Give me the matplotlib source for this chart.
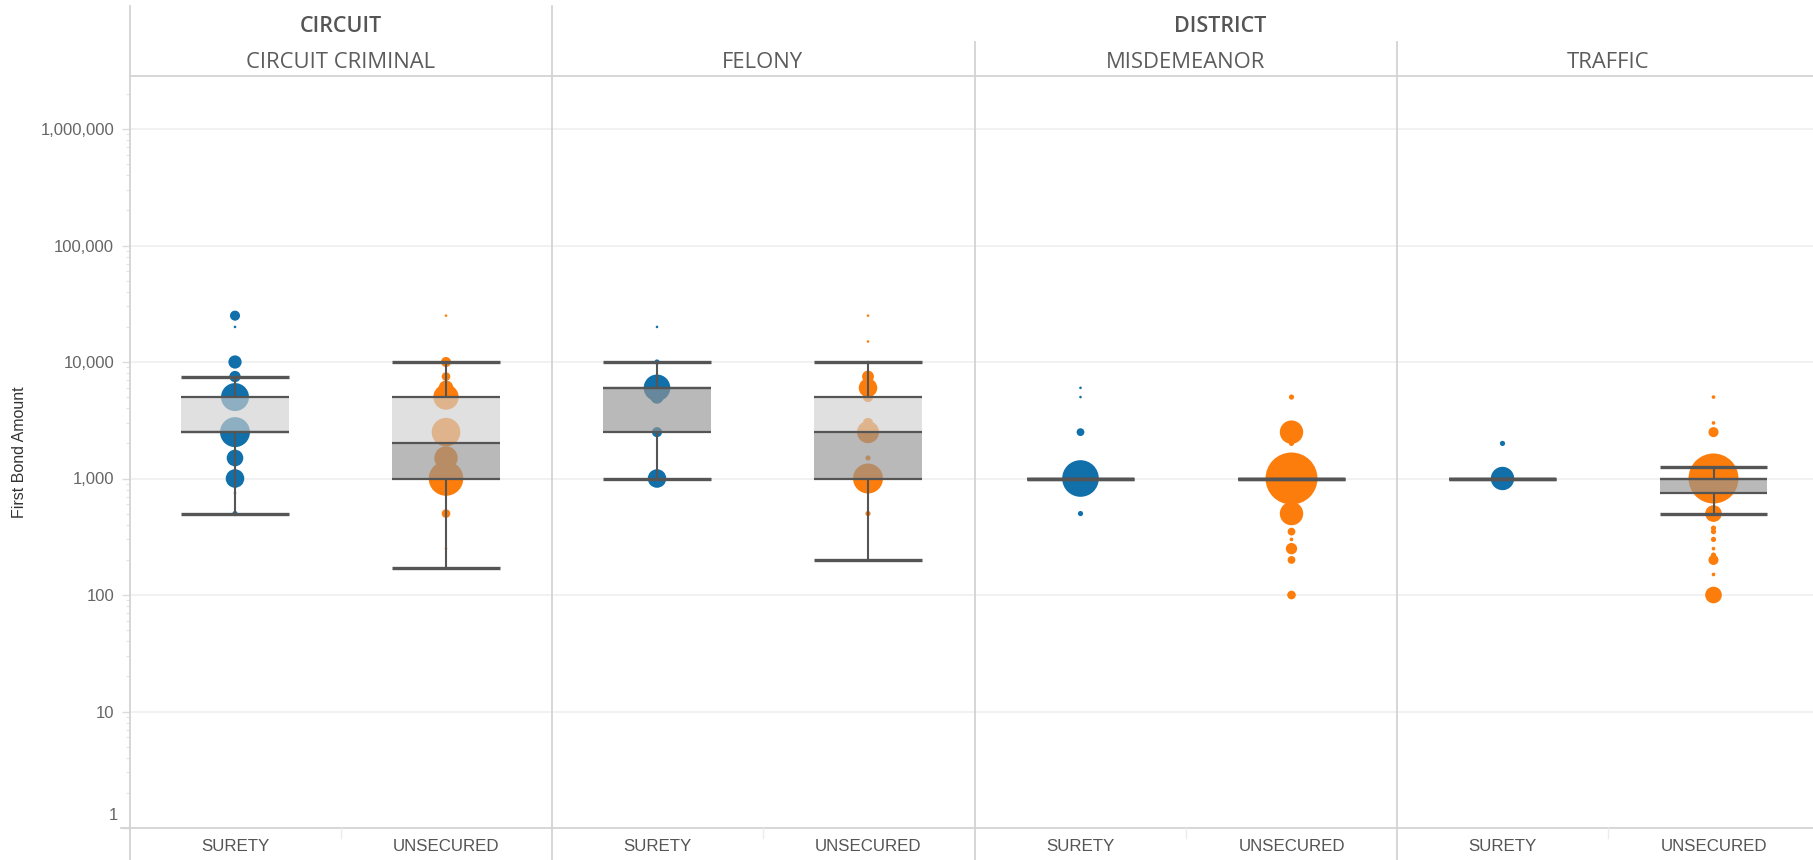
import matplotlib
matplotlib.use("Agg")
import matplotlib.pyplot as plt
from matplotlib.lines import Line2D
from matplotlib.ticker import FixedLocator, FuncFormatter, NullFormatter
from matplotlib.transforms import ScaledTranslation
import numpy as np

# ---------------------------------------------------------------- data
court_names = ["CIRCUIT", "DISTRICT"]
case_types = ["CIRCUIT CRIMINAL", "FELONY", "MISDEMEANOR", "TRAFFIC"]
bond_types = ["SURETY", "UNSECURED"]

# first bond amount and number of cases at that amount
cc_surety_amount = [25000, 20000, 10000, 7500, 5000, 2500, 1500, 1000, 750, 500]
cc_surety_cases = [15, 1, 26, 19, 116, 133, 41, 51, 1, 4]
cc_unsecured_amount = [25000, 10000, 7500, 6000, 5000, 2500, 1500, 1000, 500, 250, 170]
cc_unsecured_cases = [1, 15, 11, 32, 95, 121, 81, 177, 11, 1, 1]

fel_surety_amount = [20000, 10000, 6000, 5000, 2500, 1000]
fel_surety_cases = [1, 4, 105, 26, 15, 51]
fel_unsecured_amount = [25000, 15000, 10000, 7500, 6000, 5000, 3000, 2500, 1500, 1000, 500, 200]
fel_unsecured_cases = [1, 1, 1, 21, 51, 15, 15, 72, 4, 133, 4, 1]

mis_surety_amount = [6000, 5000, 2500, 1000, 500]
mis_surety_cases = [1, 1, 9, 199, 4]
mis_unsecured_amount = [5000, 2500, 2000, 1000, 500, 350, 300, 250, 200, 100]
mis_unsecured_cases = [4, 81, 4, 400, 81, 9, 2, 19, 9, 11]

tra_surety_amount = [2000, 1000]
tra_surety_cases = [4, 81]
tra_unsecured_amount = [5000, 3000, 2500, 1250, 1000, 500, 375, 350, 300, 250, 220, 200, 150, 100]
tra_unsecured_cases = [2, 2, 15, 1, 370, 41, 4, 4, 4, 2, 4, 15, 2, 41]

# box plot summary, ordered case type x bond type
box_low = [500, 170, 1000, 200, 1000, 1000, 1000, 500]
box_q1 = [2500, 1000, 2500, 1000, 1000, 1000, 1000, 750]
box_median = [2500, 2000, 6000, 2500, 1000, 1000, 1000, 1000]
box_q3 = [5000, 5000, 6000, 5000, 1000, 1000, 1000, 1000]
box_high = [7500, 10000, 10000, 10000, 1000, 1000, 1000, 1250]

y_ticks = [1, 10, 100, 1000, 10000, 100000, 1000000]

series = [
    [(cc_surety_amount, cc_surety_cases), (cc_unsecured_amount, cc_unsecured_cases)],
    [(fel_surety_amount, fel_surety_cases), (fel_unsecured_amount, fel_unsecured_cases)],
    [(mis_surety_amount, mis_surety_cases), (mis_unsecured_amount, mis_unsecured_cases)],
    [(tra_surety_amount, tra_surety_cases), (tra_unsecured_amount, tra_unsecured_cases)],
]

# ---------------------------------------------------------------- style
W, H = 1813, 860
BLUE = "#1170aa"
ORANGE = "#fc7d0b"
BOND_COLORS = [BLUE, ORANGE]
RULE = "#d3d3d3"
LINE = "#555555"
NARROW = ["Liberation Sans Narrow", "Liberation Sans", "DejaVu Sans"]
HEAD = ["Open Sans", "DejaVu Sans"]

fig = plt.figure(figsize=(W / 100, H / 100), dpi=100)
fig.patch.set_facecolor("white")


def fx(px):
    return px / W


def fy(py):
    return 1 - py / H


plot_top, plot_bottom = 76, 828
panel_left = [129.5, 551.5, 975, 1397]
panel_w = 422
decade_px = 116.5
y_max = 10 ** ((plot_bottom - plot_top) / decade_px)

axes = []
for p in range(4):
    ax = fig.add_axes([fx(panel_left[p]), fy(plot_bottom),
                       fx(panel_w), (plot_bottom - plot_top) / H])
    ax.set_yscale("log")
    ax.set_ylim(1, y_max)
    ax.set_xlim(-0.5, 1.5)
    for s in ax.spines.values():
        s.set_visible(False)
    ax.set_facecolor("none")
    ax.yaxis.set_major_locator(FixedLocator(y_ticks))
    ax.yaxis.set_minor_locator(FixedLocator(
        [m * 10 ** e for e in range(0, 7) for m in range(2, 10)]))
    ax.yaxis.set_minor_formatter(NullFormatter())
    ax.set_xticks([])
    for t in y_ticks[1:]:
        ax.axhline(t, color="#efefef", lw=1.2, zorder=0)
    axes.append(ax)

    for b in range(2):
        k = p * 2 + b
        amt, cases = series[p][b]
        amt = np.asarray(amt, float)
        cases = np.asarray(cases, float)
        order = np.argsort(-cases)
        ax.scatter(np.full(len(amt), b)[order], amt[order], s=3.5 * cases[order],
                   color=BOND_COLORS[b], linewidths=0, zorder=2)

        bw = 0.51
        # upper and lower halves of the box
        ax.bar(b, box_q3[k] - box_median[k], bottom=box_median[k], width=bw,
               color="#d0d0d0", alpha=0.66, linewidth=0, zorder=3)
        ax.bar(b, box_median[k] - box_q1[k], bottom=box_q1[k], width=bw,
               color="#959595", alpha=0.66, linewidth=0, zorder=3)
        # whiskers
        ax.vlines(b, box_q3[k], box_high[k], color=LINE, lw=1.5, zorder=4)
        ax.vlines(b, box_low[k], box_q1[k], color=LINE, lw=1.5, zorder=4)
        ax.hlines([box_q1[k], box_median[k], box_q3[k]], b - bw / 2, b + bw / 2,
                  color=LINE, lw=1.6, zorder=5)
        ax.hlines([box_low[k], box_high[k]], b - bw / 2, b + bw / 2,
                  color=LINE, lw=2.4, zorder=5)

        # bond type label under the panel
        trans = ax.get_xaxis_transform() + ScaledTranslation(0, -0.185, fig.dpi_scale_trans)
        ax.text(b, 0, bond_types[b], transform=trans, ha="center", va="center",
                fontsize=12.2, color="#555555", family=NARROW)

    if p == 0:
        ax.tick_params(axis="y", which="major", length=6, width=1, color="#dcdcdc",
                       pad=5, labelsize=12, labelcolor="#666666")
        ax.tick_params(axis="y", which="minor", length=3, width=0.8, color="#e4e4e4")
        ax.yaxis.set_major_formatter(FuncFormatter(
            lambda v, pos: "" if v < 5 else f"{int(round(v)):,}"))
        for lab in ax.get_yticklabels():
            lab.set_family(NARROW)
        # the "1" label sits just above the bottom edge
        trans = ax.get_yaxis_transform() + ScaledTranslation(-0.11, 0.13, fig.dpi_scale_trans)
        ax.text(0, 1, "1", transform=trans, ha="right", va="center",
                fontsize=12, color="#666666", family=NARROW)
        ax.set_ylabel("First Bond Amount", fontsize=11.5, color="#333333",
                      family=NARROW, labelpad=0)
        ax.yaxis.set_label_coords(fx(27 - 129.5) / fx(panel_w), 0.5)
    else:
        ax.tick_params(axis="y", which="both", length=0, labelleft=False)

# ---------------------------------------------------------------- headers and rules
def rule(x0, y0, x1, y1, color=RULE, lw=1.3):
    fig.add_artist(Line2D([fx(x0), fx(x1)], [fy(y0), fy(y1)], color=color,
                          lw=lw, transform=fig.transFigure, zorder=1))


rule(129.5, 6, 129.5, H)
rule(551.5, 6, 551.5, H)
rule(975, 42, 975, H)
rule(1397, 42, 1397, H)
rule(129.5, plot_top, W, plot_top)
rule(121, plot_bottom, W, plot_bottom)
for p in range(4):
    mid = panel_left[p] + panel_w / 2
    rule(mid, plot_bottom, mid, plot_bottom + 10, color="#ececec", lw=1)

# the district header spans its panels, which run on past the right edge
court_span = {"CIRCUIT": (panel_left[0], panel_left[1]),
              "DISTRICT": (panel_left[1], 1888)}
for name in court_names:
    a, b = court_span[name]
    fig.text(fx((a + b) / 2), fy(26), name, ha="center", va="center",
             fontsize=15.5, fontweight="semibold", color="#555555", family=HEAD)
for p, name in enumerate(case_types):
    fig.text(fx(panel_left[p] + panel_w / 2), fy(62), name, ha="center",
             va="center", fontsize=15.8, color="#5c5c5c", family=HEAD)

fig.savefig("out.png", dpi=100, facecolor="white")
